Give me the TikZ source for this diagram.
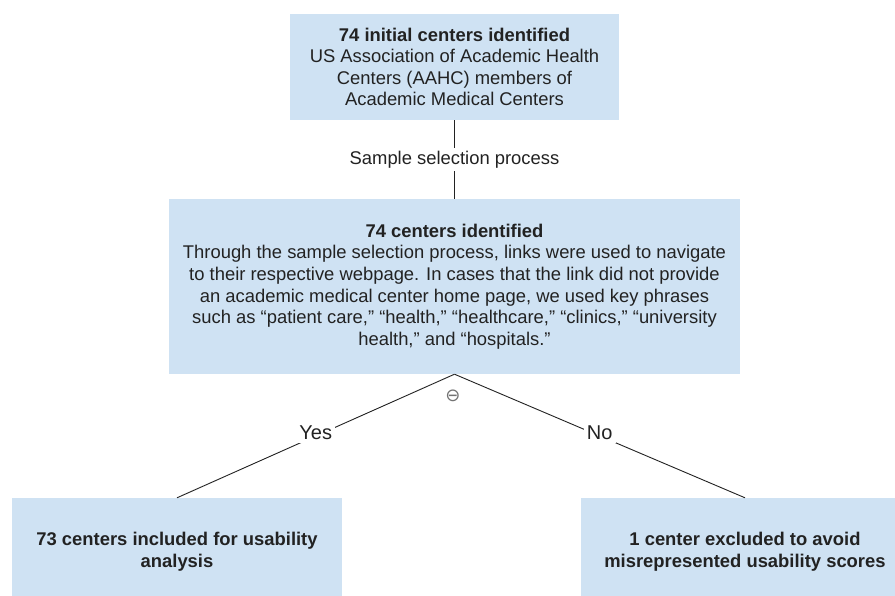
\documentclass[tikz,border=0pt]{standalone}
\usepackage{fontspec}
\setmainfont{Liberation Sans}
\newfontfamily\symfont{DejaVu Sans}
\definecolor{boxblue}{HTML}{CFE2F3}
\definecolor{inkgray}{HTML}{222222}

\tikzset{
    flowbox/.style={fill=boxblue, inner sep=0pt, align=center, text=inkgray,
        font=\fontsize{18.4}{21.6}\selectfont},
    link/.style={draw=inkgray, line width=0.9pt},
    linklabel/.style={fill=white, text=inkgray, inner sep=3pt}
}

\begin{document}
\begin{tikzpicture}[x=1pt, y=-1pt]

            %----- CANVAS -----
            \clip (0,0) rectangle (895,596);
            \fill[white] (0,0) rectangle (895,596);

            %----- BOXES -----
            \node[flowbox, minimum width=329pt, minimum height=106pt] (initial) at (454.5,67)
                {\textbf{74 initial centers identified}\\
                 US Association of Academic Health\\
                 Centers (AAHC) members of\\
                 Academic Medical Centers};

            \node[flowbox, minimum width=571pt, minimum height=175pt] (identified) at (454.5,286.5)
                {\textbf{74 centers identified}\\
                 Through the sample selection process, links were used to navigate\\
                 to their respective webpage. In cases that the link did not provide\\
                 an academic medical center home page, we used key phrases\\
                 such as “patient care,” “health,” “healthcare,” “clinics,” “university\\
                 health,” and “hospitals.”};

            \node[flowbox, minimum width=330pt, minimum height=108pt] (included) at (177,552)
                {\textbf{73 centers included for usability}\\
                 \textbf{analysis}};

            \node[flowbox, minimum width=328pt, minimum height=108pt] (excluded) at (745,552)
                {\textbf{1 center excluded to avoid}\\
                 \textbf{misrepresented usability scores}};

            %----- CONNECTORS -----
            \draw[link] (initial.south) -- node[linklabel, font=\fontsize{18.4}{21.6}\selectfont] (selection)
                {Sample selection process} (identified.north);
            \draw[link] (identified.south) -- node[linklabel, font=\fontsize{20}{24}\selectfont, yshift=3pt] (yes)
                {Yes} (included.north);
            \draw[link] (identified.south) -- node[linklabel, font=\fontsize{20}{24}\selectfont, yshift=3pt] (no)
                {No} (excluded.north);

            % small collapse marker under the split
            \node[text=black!55, inner sep=0pt, font=\symfont\fontsize{18}{18}\selectfont] (marker)
                at (453,396) {⊖};

        \end{tikzpicture}
\end{document}
